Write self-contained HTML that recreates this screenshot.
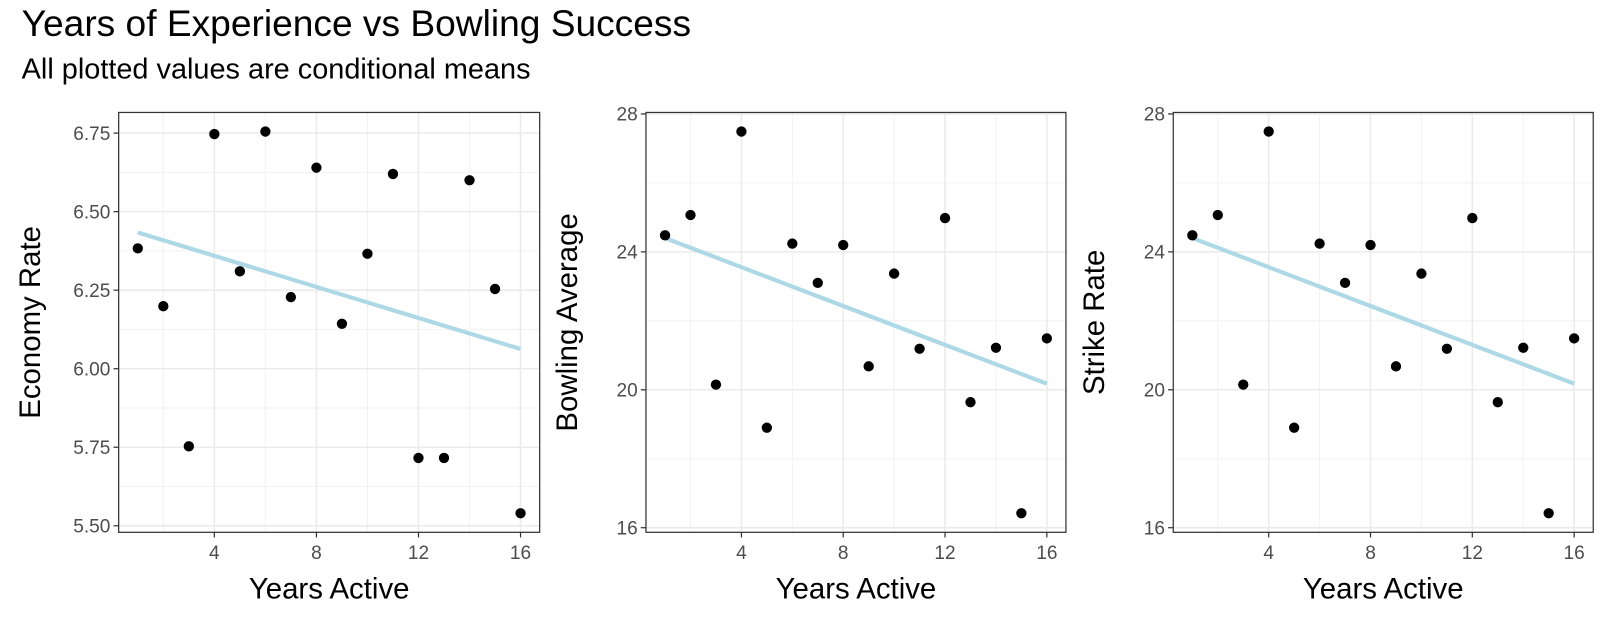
<!DOCTYPE html>
<html><head><meta charset="utf-8"><style>
body{margin:0;background:#fff;font-family:"Liberation Sans",Arial,sans-serif;}
svg text{font-family:"Liberation Sans",Arial,sans-serif;}
</style></head><body>
<svg id="chart" width="1618" height="620" viewBox="0 0 1568 601" preserveAspectRatio="none" xmlns="http://www.w3.org/2000/svg">
<text x="21" y="35" font-size="36" fill="#000">Years of Experience vs Bowling Success</text>
<text x="21" y="76" font-size="28" fill="#000">All plotted values are conditional means</text>
</svg>
<script>
const years = [1,2,3,4,5,6,7,8,9,10,11,12,13,14,15,16];
const economyRate = [6.383,6.199,5.753,6.747,6.31,6.755,6.228,6.64,6.143,6.366,6.62,5.716,5.716,6.60,6.254,5.54];
const bowlingAverage = [24.48,25.07,20.15,27.49,18.9,24.24,23.1,24.2,20.68,23.37,21.19,24.98,19.64,21.22,16.42,21.49];
const strikeRate = [24.48,25.07,20.15,27.49,18.9,24.24,23.1,24.2,20.68,23.37,21.19,24.98,19.64,21.22,16.42,21.49];
const xTicks = [4,8,12,16];
const xMinor = [2,6,10,14];
const econTicks = ["5.50","5.75","6.00","6.25","6.50","6.75"];
const avgTicks = ["16","20","24","28"];

const NS="http://www.w3.org/2000/svg";
const svg=document.getElementById('chart');
function el(tag,attrs,parent){const e=document.createElementNS(NS,tag);for(const k in attrs)e.setAttribute(k,attrs[k]);(parent||svg).appendChild(e);return e;}

const panels=[
 {name:'economy',ys:economyRate,title:'Economy Rate',ticks:econTicks,left:115,right:523,top:109,bottom:516,yOff:76},
 {name:'bowling-average',ys:bowlingAverage,title:'Bowling Average',ticks:avgTicks,left:626,right:1033,top:109,bottom:516,yOff:67},
 {name:'strike-rate',ys:strikeRate,title:'Strike Rate',ticks:avgTicks,left:1137,right:1544,top:109,bottom:516,yOff:67}
];

panels.forEach(p=>{
 const g=el('g',{});
 
 
 const xmin=Math.min(...years),xmax=Math.max(...years);
 const xr=xmax-xmin, x0=xmin-0.05*xr, x1=xmax+0.05*xr;
 const ymin=Math.min(...p.ys),ymax=Math.max(...p.ys);
 const yr=ymax-ymin, y0=ymin-0.05*yr, y1=ymax+0.05*yr;
 const sx=v=>p.left+(v-x0)/(x1-x0)*(p.right-p.left);
 const sy=v=>p.bottom-(v-y0)/(y1-y0)*(p.bottom-p.top);
 const tv=p.ticks.map(Number);
 const step=tv[1]-tv[0];
 xMinor.forEach(v=>{const l=el('line',{x1:sx(v),x2:sx(v),y1:p.top,y2:p.bottom,stroke:'#f2f2f2','stroke-width':1},g);});
 for(let i=0;i<tv.length-1;i++){const v=tv[i]+step/2;const l=el('line',{x1:p.left,x2:p.right,y1:sy(v),y2:sy(v),stroke:'#f2f2f2','stroke-width':1},g);}
 xTicks.forEach(v=>{
  const l=el('line',{x1:sx(v),x2:sx(v),y1:p.top,y2:p.bottom,stroke:'#ebebeb','stroke-width':1.5},g);
  
  el('line',{x1:sx(v),x2:sx(v),y1:p.bottom,y2:p.bottom+5,stroke:'#333','stroke-width':1.2},g);
  const t=el('text',{x:sx(v),y:p.bottom+26,'font-size':18.5,fill:'#4d4d4d','text-anchor':'middle'},g);t.textContent=v;
  
 });
 p.ticks.forEach((lab,i)=>{
  const v=tv[i];
  const l=el('line',{x1:p.left,x2:p.right,y1:sy(v),y2:sy(v),stroke:'#ebebeb','stroke-width':1.5},g);
  
  el('line',{x1:p.left-5,x2:p.left,y1:sy(v),y2:sy(v),stroke:'#333','stroke-width':1.2},g);
  const t=el('text',{x:p.left-8,y:sy(v)+6.5,'font-size':18.5,fill:'#4d4d4d','text-anchor':'end'},g);t.textContent=lab;
  
 });
 const n=years.length,mx=years.reduce((a,b)=>a+b)/n,my=p.ys.reduce((a,b)=>a+b)/n;
 let sxy=0,sxx=0;years.forEach((x,i)=>{sxy+=(x-mx)*(p.ys[i]-my);sxx+=(x-mx)**2;});
 const b=sxy/sxx,a=my-b*mx;
 const ln=el('line',{x1:sx(xmin),y1:sy(a+b*xmin),x2:sx(xmax),y2:sy(a+b*xmax),stroke:'#add8e6','stroke-width':4},g);
 
 years.forEach((x,i)=>{
  const c=el('circle',{cx:sx(x),cy:sy(p.ys[i]),r:5,fill:'#000'},g);
  
 });
 const r=el('rect',{x:p.left,y:p.top,width:p.right-p.left,height:p.bottom-p.top,fill:'none',stroke:'#333','stroke-width':1.2},g);
 
 const xt=el('text',{x:(p.left+p.right)/2,y:580,'font-size':28.5,fill:'#000','text-anchor':'middle'},g);xt.textContent='Years Active';
 
 const cy=(p.top+p.bottom)/2,cx=p.left-p.yOff;
 const yt=el('text',{x:cx,y:cy,'font-size':28.5,fill:'#000','text-anchor':'middle',transform:`rotate(-90 ${cx} ${cy})`},g);yt.textContent=p.title;
 
});
</script>
</body></html>
